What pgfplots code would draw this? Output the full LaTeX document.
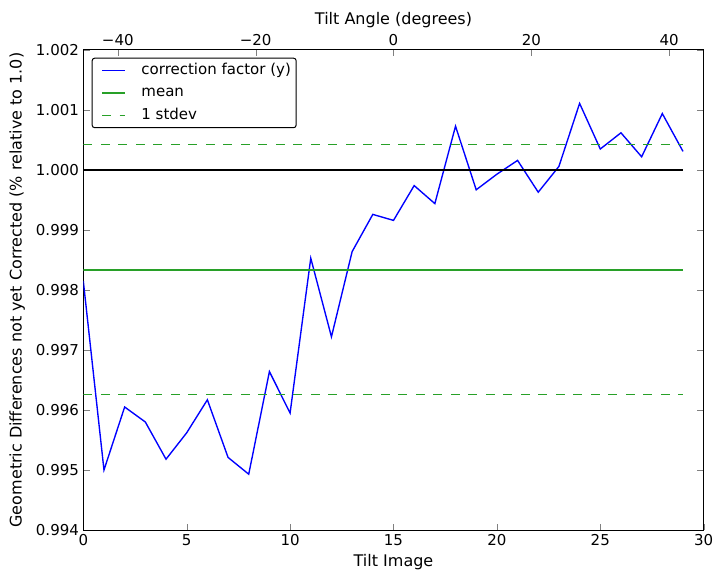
\documentclass[border=0pt]{standalone}
\usepackage{pgfplots}
\pgfplotsset{compat=1.18}
\usepackage{fontspec}
\setmainfont{DejaVu Sans}
\definecolor{mplgreen}{RGB}{40,160,40}
\begin{document}
\begin{tikzpicture}[font=\fontsize{12pt}{14pt}\selectfont]
\path[use as bounding box] (-66.64pt,-39.2pt) rectangle (510.96pt,424pt);
\begin{axis}[
  at={(0pt,0pt)}, anchor=south west,
  scale only axis, width=496.3pt, height=384pt,
  xmin=0, xmax=30, ymin=0.994, ymax=1.002,
  xtick={0,5,...,30}, ytick={0.994,0.995,...,1.002},
  xtick pos=bottom, ytick pos=both, tick align=inside,
  major tick length=5pt, minor tick num=0,
  /pgf/number format/assume math mode=true,
  yticklabel style={/pgf/number format/fixed, /pgf/number format/fixed zerofill, /pgf/number format/precision=3},
  scaled y ticks=false,
  xlabel={Tilt Image},
  ylabel={Geometric Differences not yet Corrected (\% relative to 1.0)},
  label style={font=\fontsize{12.8pt}{15pt}\selectfont},
  xlabel style={yshift=0pt},
  ylabel style={yshift=2pt},
  axis line style={line width=0.8pt},
  legend style={at={(0.0135,0.984)}, anchor=north west, rounded corners=2pt, draw=black, line width=0.8pt,
    font=\fontsize{12pt}{14pt}\selectfont, inner xsep=4.2pt, inner ysep=3.9pt,
    row sep=5.9pt, column sep=12pt,
    nodes={inner sep=0pt, text height=9pt, text depth=3pt}},
  legend cell align=left,
  legend image code/.code={\path (0pt,0pt); \draw[mark repeat=2,mark phase=2,#1] plot coordinates {(3pt,0pt) (21.7pt,0pt)};},
]
\addplot[color=blue, line width=1.1pt] coordinates {
(0,0.99815) (1,0.99500) (2,0.99605) (3,0.99580) (4,0.99518) (5,0.99562)
(6,0.99617) (7,0.99521) (8,0.99493) (9,0.99664) (10,0.99595) (11,0.99853)
(12,0.99722) (13,0.99864) (14,0.99926) (15,0.99916) (16,0.99974) (17,0.99944)
(18,1.00073) (19,0.99967) (20,0.99993) (21,1.00016) (22,0.99963) (23,1.00006)
(24,1.00111) (25,1.00035) (26,1.00062) (27,1.00022) (28,1.00094) (29,1.00031)
};
\addlegendentry{correction factor (y)}
\addplot[color=mplgreen, line width=1.5pt] coordinates {(0,0.998333) (29,0.998333)};
\addlegendentry{mean}
\addplot[color=mplgreen, line width=1.1pt, dash pattern=on 7pt off 7pt] coordinates {(0,1.00043) (29,1.00043)};
\addlegendentry{1 stdev}
\addplot[color=mplgreen, line width=1.1pt, dash pattern=on 7pt off 7pt, forget plot] coordinates {(0,0.99626) (29,0.99626)};
\addplot[color=black, line width=1.1pt, forget plot] coordinates {(0,1.0) (29,1.0)};
\end{axis}
\begin{axis}[
  at={(0pt,0pt)}, anchor=south west,
  scale only axis, width=496.3pt, height=384pt,
  xmin=-45, xmax=45, ymin=0, ymax=1,
  axis x line*=top, hide y axis,
  xtick={-40,-20,0,20,40},
  xticklabels={−40,−20,0,20,40},
  tick align=inside, major tick length=5pt,
  xlabel={Tilt Angle (degrees)},
  label style={font=\fontsize{12.8pt}{15pt}\selectfont},
  xlabel style={yshift=-1.5pt},
  axis line style={line width=0.8pt},
]
\addplot[draw=none] coordinates {(-45,0) (45,1)};
\end{axis}
\end{tikzpicture}
\end{document}
